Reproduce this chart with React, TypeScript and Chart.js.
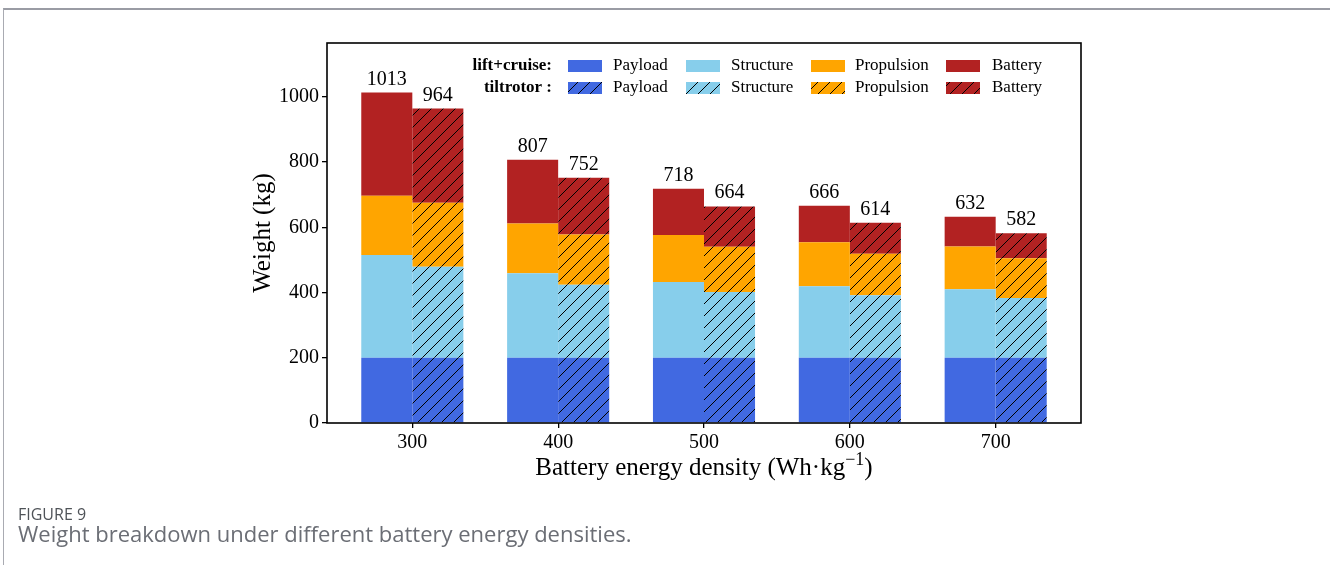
import { useEffect, useRef } from "react";
import { Chart, registerables } from "chart.js";

Chart.register(...registerables);

// Battery energy density (Wh/kg) categories
const densities = [300, 400, 500, 600, 700];
const yTicks = [0, 200, 400, 600, 800, 1000];

// lift+cruise weight breakdown (kg)
const lcPayload = [200, 200, 200, 200, 200];
const lcStructure = [315, 259, 232, 219, 210];
const lcPropulsion = [182, 153, 144, 135, 131];
const lcBattery = [316, 195, 142, 112, 91];

// tiltrotor weight breakdown (kg)
const trPayload = [200, 200, 200, 200, 200];
const trStructure = [279, 224, 202, 192, 183];
const trPropulsion = [196, 154, 138, 127, 122];
const trBattery = [289, 174, 124, 95, 77];

const componentNames = ["Payload", "Structure", "Propulsion", "Battery"];
const componentColors = ["#4169E1", "#87CEEB", "#FFA500", "#B22222"];

const SERIF = "'Liberation Serif', 'Times New Roman', serif";

function hatchPattern(color: string): CanvasPattern | string {
  const size = 12;
  const c = document.createElement("canvas");
  c.width = size;
  c.height = size;
  const g = c.getContext("2d");
  if (!g) return color;
  g.fillStyle = color;
  g.fillRect(0, 0, size, size);
  g.strokeStyle = "#000";
  g.lineWidth = 1;
  g.beginPath();
  g.moveTo(-1, size + 1);
  g.lineTo(size + 1, -1);
  g.moveTo(-1, 1);
  g.lineTo(1, -1);
  g.moveTo(size - 1, size + 1);
  g.lineTo(size + 1, size - 1);
  g.stroke();
  return g.createPattern(c, "repeat") ?? color;
}

const sum = (...arrs: number[][]) => densities.map((_, i) => arrs.reduce((s, a) => s + a[i], 0));

export default function App() {
  const canvasRef = useRef<HTMLCanvasElement | null>(null);

  useEffect(() => {
    const canvas = canvasRef.current;
    if (!canvas) return;

    const lcSeries = [lcPayload, lcStructure, lcPropulsion, lcBattery];
    const trSeries = [trPayload, trStructure, trPropulsion, trBattery];
    const lcTotals = sum(...lcSeries);
    const trTotals = sum(...trSeries);
    const patterns = componentColors.map((c) => hatchPattern(c));

    const toPoints = (arr: number[]) => densities.map((x, i) => ({ x, y: arr[i] }));

    const datasets: any[] = [
      ...lcSeries.map((arr, k) => ({
        label: `lift+cruise ${componentNames[k]}`,
        data: toPoints(arr),
        backgroundColor: componentColors[k],
        borderWidth: 0,
        stack: "lift+cruise",
      })),
      ...trSeries.map((arr, k) => ({
        label: `tiltrotor ${componentNames[k]}`,
        data: toPoints(arr),
        backgroundColor: patterns[k],
        borderWidth: 0,
        stack: "tiltrotor",
      })),
    ];

    const framePlugin = {
      id: "frame",
      afterDatasetsDraw(chart: any) {
        const { ctx, chartArea: a } = chart;
        ctx.save();
        ctx.strokeStyle = "#000";
        ctx.lineWidth = 1.6;
        ctx.strokeRect(a.left, a.top, a.right - a.left, a.bottom - a.top);
        ctx.restore();
      },
    };

    const totalsPlugin = {
      id: "totals",
      afterDatasetsDraw(chart: any) {
        const { ctx } = chart;
        ctx.save();
        ctx.font = `20px ${SERIF}`;
        ctx.fillStyle = "#000";
        ctx.textAlign = "center";
        ctx.textBaseline = "alphabetic";
        const groups: [number, number[]][] = [
          [3, lcTotals],
          [7, trTotals],
        ];
        groups.forEach(([dsIndex, totals]) => {
          const meta = chart.getDatasetMeta(dsIndex);
          meta.data.forEach((bar: any, i: number) => {
            ctx.fillText(String(totals[i]), bar.x, bar.y - 8);
          });
        });
        ctx.restore();
      },
    };

    const legendPlugin = {
      id: "twoRowLegend",
      afterDraw(chart: any) {
        const { ctx } = chart;
        const rows = [
          { title: "lift+cruise:", y: 66, fills: componentColors as (string | CanvasPattern)[] },
          { title: "tiltrotor :", y: 88, fills: patterns },
        ];
        const swatchX = [568, 686, 811, 946];
        const textX = [613, 731, 855, 992];
        ctx.save();
        rows.forEach((row) => {
          ctx.font = `bold 17px ${SERIF}`;
          ctx.fillStyle = "#000";
          ctx.textAlign = "right";
          ctx.textBaseline = "middle";
          ctx.fillText(row.title, 552, row.y);
          componentNames.forEach((name, k) => {
            ctx.fillStyle = row.fills[k];
            ctx.fillRect(swatchX[k], row.y - 6, 34, 12);
            ctx.font = `17px ${SERIF}`;
            ctx.fillStyle = "#000";
            ctx.textAlign = "left";
            ctx.fillText(name, textX[k], row.y);
          });
        });
        ctx.restore();
      },
    };

    const axisTitlesPlugin = {
      id: "axisTitles",
      afterDraw(chart: any) {
        const { ctx, chartArea: a } = chart;
        ctx.save();
        ctx.fillStyle = "#000";
        // y title
        ctx.font = `25px ${SERIF}`;
        ctx.textAlign = "center";
        ctx.textBaseline = "middle";
        ctx.translate(263, (a.top + a.bottom) / 2);
        ctx.rotate(-Math.PI / 2);
        ctx.fillText("Weight (kg)", 0, 0);
        ctx.setTransform(1, 0, 0, 1, 0, 0);
        // x title with superscript
        const main = "Battery energy density (Wh\u00B7kg";
        const sup = "\u22121";
        const tail = ")";
        ctx.font = `25px ${SERIF}`;
        const wMain = ctx.measureText(main).width;
        const wTail = ctx.measureText(tail).width;
        ctx.font = `18px ${SERIF}`;
        const wSup = ctx.measureText(sup).width;
        const total = wMain + wSup + wTail;
        let x = (a.left + a.right) / 2 - total / 2;
        const base = 475;
        ctx.textAlign = "left";
        ctx.textBaseline = "alphabetic";
        ctx.font = `25px ${SERIF}`;
        ctx.fillText(main, x, base);
        x += wMain;
        ctx.font = `18px ${SERIF}`;
        ctx.fillText(sup, x, base - 10);
        x += wSup;
        ctx.font = `25px ${SERIF}`;
        ctx.fillText(tail, x, base);
        ctx.restore();
      },
    };

    const tickFont = { family: SERIF, size: 20 };

    const chart = new Chart(canvas, {
      type: "bar",
      data: { datasets },
      options: {
        responsive: false,
        animation: false,
        devicePixelRatio: 1,
        layout: { padding: { left: 0, top: 43, right: 249, bottom: 82 } },
        datasets: { bar: { categoryPercentage: 0.7, barPercentage: 1.0 } },
        plugins: {
          legend: { display: false },
          tooltip: { enabled: false },
        },
        scales: {
          x: {
            type: "linear",
            min: 241.5,
            max: 758.5,
            offset: false,
            afterBuildTicks: (axis: any) => {
              axis.ticks = densities.map((v) => ({ value: v }));
            },
            afterFit: (scale: any) => {
              scale.height = 60;
            },
            grid: {
              offset: false,
              drawOnChartArea: false,
              drawTicks: true,
              tickLength: 5,
              color: "#000",
              lineWidth: 1.3,
            },
            border: { display: false },
            ticks: {
              font: tickFont,
              color: "#000",
              padding: 3,
              maxRotation: 0,
              autoSkip: false,
              callback: (v: any) => String(v),
            },
          },
          y: {
            stacked: true,
            min: 0,
            max: 1165,
            afterBuildTicks: (axis: any) => {
              axis.ticks = yTicks.map((v) => ({ value: v }));
            },
            afterFit: (scale: any) => {
              scale.width = 327;
            },
            grid: {
              offset: false,
              drawOnChartArea: false,
              drawTicks: true,
              tickLength: 5,
              color: "#000",
              lineWidth: 1.3,
            },
            border: { display: false },
            ticks: {
              font: tickFont,
              color: "#000",
              padding: 3,
              autoSkip: false,
              callback: (v: any) => String(v),
            },
          },
        },
      } as any,
      plugins: [framePlugin, totalsPlugin, legendPlugin, axisTitlesPlugin],
    });

    return () => chart.destroy();
  }, []);

  return (
    <div style={{ position: "fixed", left: 0, top: 0, width: 1330, height: 565, background: "#fff", overflow: "hidden" }}>
      <div
        style={{
          position: "absolute",
          left: 3,
          top: 8,
          width: 1340,
          height: 600,
          borderTop: "2px solid #9a9ca4",
          borderLeft: "1px solid #a9abb2",
          boxSizing: "border-box",
        }}
      />
      <canvas ref={canvasRef} width={1330} height={565} style={{ position: "absolute", left: 0, top: 0 }} />
      <div
        style={{
          position: "absolute",
          left: 18,
          top: 504,
          fontFamily: "'Open Sans', 'Noto Sans', sans-serif",
          fontSize: 16,
          color: "#4f5358",
          lineHeight: "20px",
          whiteSpace: "nowrap",
        }}
      >
        FIGURE 9
      </div>
      <div
        style={{
          position: "absolute",
          left: 18,
          top: 519,
          fontFamily: "'Open Sans', 'Noto Sans', sans-serif",
          fontSize: 22,
          color: "#6b6e75",
          lineHeight: "28px",
          whiteSpace: "nowrap",
        }}
      >
        Weight breakdown under different battery energy densities.
      </div>
    </div>
  );
}
